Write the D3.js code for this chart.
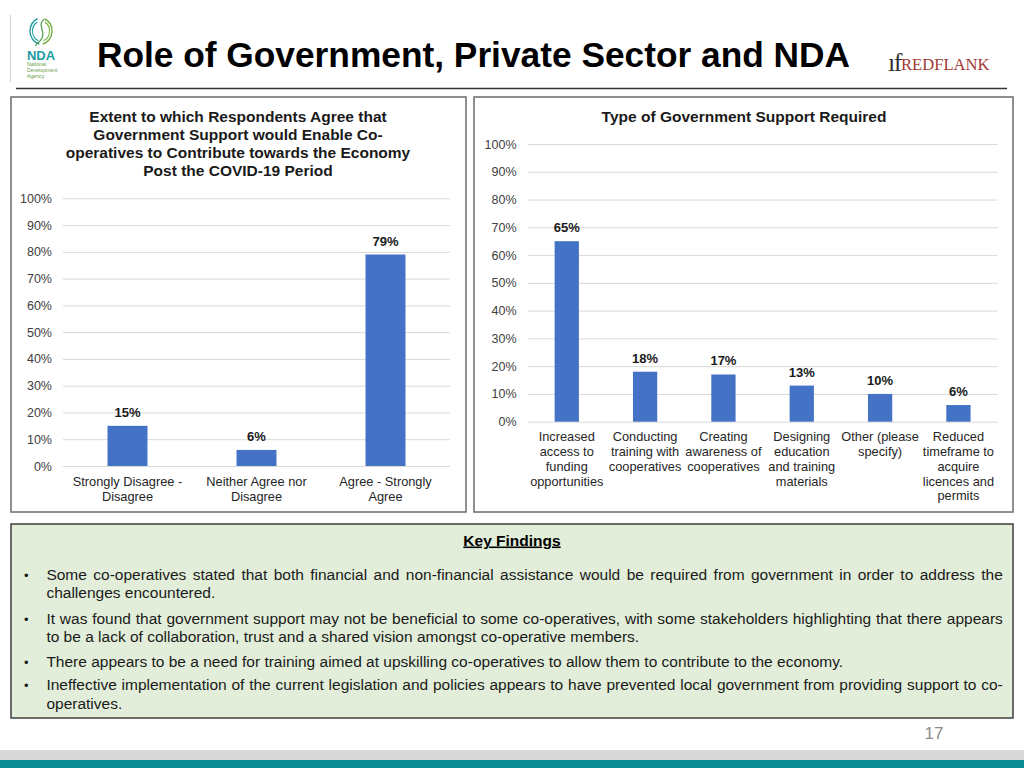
<!DOCTYPE html>
<html>
<head>
<meta charset="utf-8">
<script src="https://cdn.jsdelivr.net/npm/d3@7"></script>
<style>
  html, body { margin: 0; padding: 0; background: #fff; }
  svg { display: block; font-family: "Liberation Sans", Arial, Helvetica, sans-serif; }
</style>
</head>
<body>
<svg id="page" width="1024" height="768"></svg>
<script>
// ---------- DATA ----------
const pageTitle = "Role of Government, Private Sector and NDA";
const yTickValues = [0, 10, 20, 30, 40, 50, 60, 70, 80, 90, 100];

const leftTitleLines = [
  "Extent to which Respondents Agree that",
  "Government Support would Enable Co-",
  "operatives to Contribute towards the Economy",
  "Post the COVID-19 Period"
];
const leftCategories = [
  ["Strongly Disagree -", "Disagree"],
  ["Neither Agree nor", "Disagree"],
  ["Agree - Strongly", "Agree"]
];
const leftValues = [15, 6, 79];

const rightTitleLines = ["Type of Government Support Required"];
const rightCategories = [
  ["Increased", "access to", "funding", "opportunities"],
  ["Conducting", "training with", "cooperatives"],
  ["Creating", "awareness of", "cooperatives"],
  ["Designing", "education", "and training", "materials"],
  ["Other (please", "specify)"],
  ["Reduced", "timeframe to", "acquire", "licences and", "permits"]
];
const rightValues = [65, 18, 17, 13, 10, 6];

const findingsTitle = "Key Findings";
const findings = [
  ["Some co-operatives stated that both financial and non-financial assistance would be required from government in order to address the",
   "challenges encountered."],
  ["It was found that government support may not be beneficial to some co-operatives, with some stakeholders highlighting that there appears",
   "to be a lack of collaboration, trust and a shared vision amongst co-operative members."],
  ["There appears to be a need for training aimed at upskilling co-operatives to allow them to contribute to the economy."],
  ["Ineffective implementation of the current legislation and policies appears to have prevented local government from providing support to co-",
   "operatives."]
];
const pageNumber = "17";

// ---------- DRAW ----------
const svg = d3.select("#page");
const BAR = "#4472c4";
const GRID = "#d9d9d9";

svg.append("rect").attr("width", 1024).attr("height", 768).attr("fill", "#fff");

// header
svg.append("line").attr("x1", 10.5).attr("x2", 10.5).attr("y1", 15).attr("y2", 82)
  .attr("stroke", "#cfcfcf").attr("stroke-width", 1);

// NDA logo
const logo = svg.append("g");
const arc = (cx, cy, r, a0, a1, col, w) => {
  logo.append("path")
    .attr("d", d3.arc()({innerRadius: r - w / 2, outerRadius: r + w / 2, startAngle: a0, endAngle: a1}))
    .attr("transform", `translate(${cx},${cy}) scale(0.85,1)`)
    .attr("fill", col);
};
arc(41, 31, 13, -Math.PI * 0.95, -Math.PI * 0.1, "#1c9aa0", 1.6);
arc(41, 31, 10, -Math.PI * 0.9, -Math.PI * 0.15, "#2aa6a0", 1.3);
arc(41, 31, 13, Math.PI * 0.1, Math.PI * 0.95, "#6aab3f", 1.6);
arc(41, 31, 10, Math.PI * 0.15, Math.PI * 0.9, "#7cb342", 1.3);
logo.append("path").attr("d", "M44,19.5 C36,25 48,33 40,41 C37,44 35,45 36,46")
  .attr("fill", "none").attr("stroke", "#4f9f55").attr("stroke-width", 1.3);
logo.append("text").attr("x", 41).attr("y", 60).attr("text-anchor", "middle")
  .attr("font-size", 13).attr("font-weight", "bold").attr("fill", "#1a9ca3").text("NDA");
["National", "Development", "Agency"].forEach((t, i) => {
  logo.append("text").attr("x", 27).attr("y", 66 + i * 6).attr("font-size", 5.2)
    .attr("fill", "#6a9f4a").text(t);
});

svg.append("text").attr("x", 473.5).attr("y", 67).attr("text-anchor", "middle")
  .attr("font-size", 35.3).attr("font-weight", "bold").attr("fill", "#000").text(pageTitle);

// Redflank logo
svg.append("text").attr("x", 888).attr("y", 70.5)
  .attr("font-family", "'Liberation Serif', 'Times New Roman', serif")
  .attr("font-size", 26).attr("fill", "#333").attr("letter-spacing", -1.5).text("\u0131f");
svg.append("text").attr("x", 901).attr("y", 70)
  .attr("font-family", "'Liberation Serif', 'Times New Roman', serif")
  .attr("font-size", 16.6).attr("fill", "#a23a36").text("REDFLANK");

svg.append("line").attr("x1", 16).attr("x2", 1007).attr("y1", 88.5).attr("y2", 88.5)
  .attr("stroke", "#333").attr("stroke-width", 1.5);

// chart drawing helper
function drawChart(cfg) {
  const g = svg.append("g");
  g.append("rect").attr("x", cfg.box[0]).attr("y", cfg.box[1])
    .attr("width", cfg.box[2] - cfg.box[0]).attr("height", cfg.box[3] - cfg.box[1])
    .attr("fill", "#fff").attr("stroke", "#6b6b6b").attr("stroke-width", 1.5);

  cfg.title.forEach((t, i) => {
    g.append("text").attr("x", cfg.titleX).attr("y", 122 + i * 18).attr("text-anchor", "middle")
      .attr("font-size", 15.5).attr("font-weight", "bold").attr("fill", "#1a1a1a").text(t);
  });

  const x = d3.scaleBand().domain(d3.range(cfg.values.length))
    .range(cfg.xRange).paddingInner(0.69).paddingOuter(0.345);
  const y = d3.scaleLinear().domain([0, 100]).range(cfg.yRange);

  const yAxis = d3.axisLeft(y).tickValues(yTickValues).tickFormat(d => d + "%")
    .tickSize(-(cfg.xRange[1] - cfg.xRange[0])).tickPadding(11);
  const ax = g.append("g").attr("transform", `translate(${cfg.xRange[0]},0)`).call(yAxis);
  ax.select(".domain").remove();
  ax.selectAll(".tick line").attr("stroke", GRID).attr("stroke-width", 1);
  ax.selectAll(".tick text").attr("font-size", 12.5).attr("fill", "#404040")
    .attr("font-family", "'Liberation Sans', Arial, sans-serif");

  g.selectAll(".bar").data(cfg.values).enter().append("rect")
    .attr("x", (d, i) => x(i)).attr("width", x.bandwidth())
    .attr("y", d => y(d)).attr("height", d => y(0) - y(d)).attr("fill", BAR);

  g.selectAll(".lbl").data(cfg.values).enter().append("text")
    .attr("x", (d, i) => x(i) + x.bandwidth() / 2).attr("y", d => y(d) - 9)
    .attr("text-anchor", "middle").attr("font-size", 13).attr("font-weight", "bold")
    .attr("fill", "#1a1a1a").text(d => d + "%");

  cfg.categories.forEach((lines, i) => {
    const t = g.append("text").attr("text-anchor", "middle").attr("font-size", 12.8).attr("fill", "#262626");
    lines.forEach((ln, j) => {
      t.append("tspan").attr("x", x(i) + x.bandwidth() / 2)
        .attr("y", cfg.labelY + j * cfg.labelLH).text(ln);
    });
  });
}

drawChart({
  box: [11, 97, 466, 512], titleX: 238, title: leftTitleLines,
  values: leftValues, categories: leftCategories,
  xRange: [63, 450], yRange: [466, 198.3], labelY: 485.5, labelLH: 15
});
drawChart({
  box: [474, 97, 1013, 512], titleX: 744, title: rightTitleLines,
  values: rightValues, categories: rightCategories,
  xRange: [527.6, 997.6], yRange: [421.7, 144], labelY: 441.3, labelLH: 14.75
});

// Key findings box
const kf = svg.append("g");
kf.append("rect").attr("x", 11).attr("y", 524).attr("width", 1002).attr("height", 194)
  .attr("fill", "#e2eed9").attr("stroke", "#3d3d3d").attr("stroke-width", 1.5);
kf.append("text").attr("x", 512).attr("y", 545.5).attr("text-anchor", "middle")
  .attr("font-size", 15.5).attr("font-weight", "bold").attr("fill", "#000")
  .attr("text-decoration", "underline").text(findingsTitle);

const lineYs = [[579.5, 597.8], [623.5, 642], [666.8], [690.3, 708.6]];
const textLeft = 46.4, textRight = 1002.8;
const FS = 15.5;
findings.forEach((para, pi) => {
  kf.append("text").attr("x", 24).attr("y", lineYs[pi][0]).attr("font-size", 13)
    .attr("fill", "#1a1a1a").text("\u2022");
  para.forEach((ln, li) => {
    const yy = lineYs[pi][li];
    const justify = li < para.length - 1;
    if (!justify) {
      kf.append("text").attr("x", textLeft).attr("y", yy).attr("font-size", FS)
        .attr("fill", "#1a1a1a").text(ln);
    } else {
      const words = ln.split(" ");
      const nodes = words.map(w => kf.append("text").attr("y", yy).attr("font-size", FS)
        .attr("fill", "#1a1a1a").text(w));
      const widths = nodes.map(n => n.node().getComputedTextLength());
      const gap = (textRight - textLeft - d3.sum(widths)) / (words.length - 1);
      let cx = textLeft;
      nodes.forEach((n, k) => { n.attr("x", cx); cx += widths[k] + gap; });
    }
  });
});

// page number & footer bands
svg.append("text").attr("x", 934).attr("y", 739).attr("text-anchor", "middle")
  .attr("font-family", "'Liberation Sans Narrow', 'Arial Narrow', sans-serif")
  .attr("font-size", 17).attr("fill", "#8c8c8c").text(pageNumber);
svg.append("rect").attr("x", 0).attr("y", 750).attr("width", 1024).attr("height", 10).attr("fill", "#d9d9d9");
svg.append("rect").attr("x", 0).attr("y", 760).attr("width", 1024).attr("height", 8).attr("fill", "#0b8b92");
</script>
</body>
</html>
